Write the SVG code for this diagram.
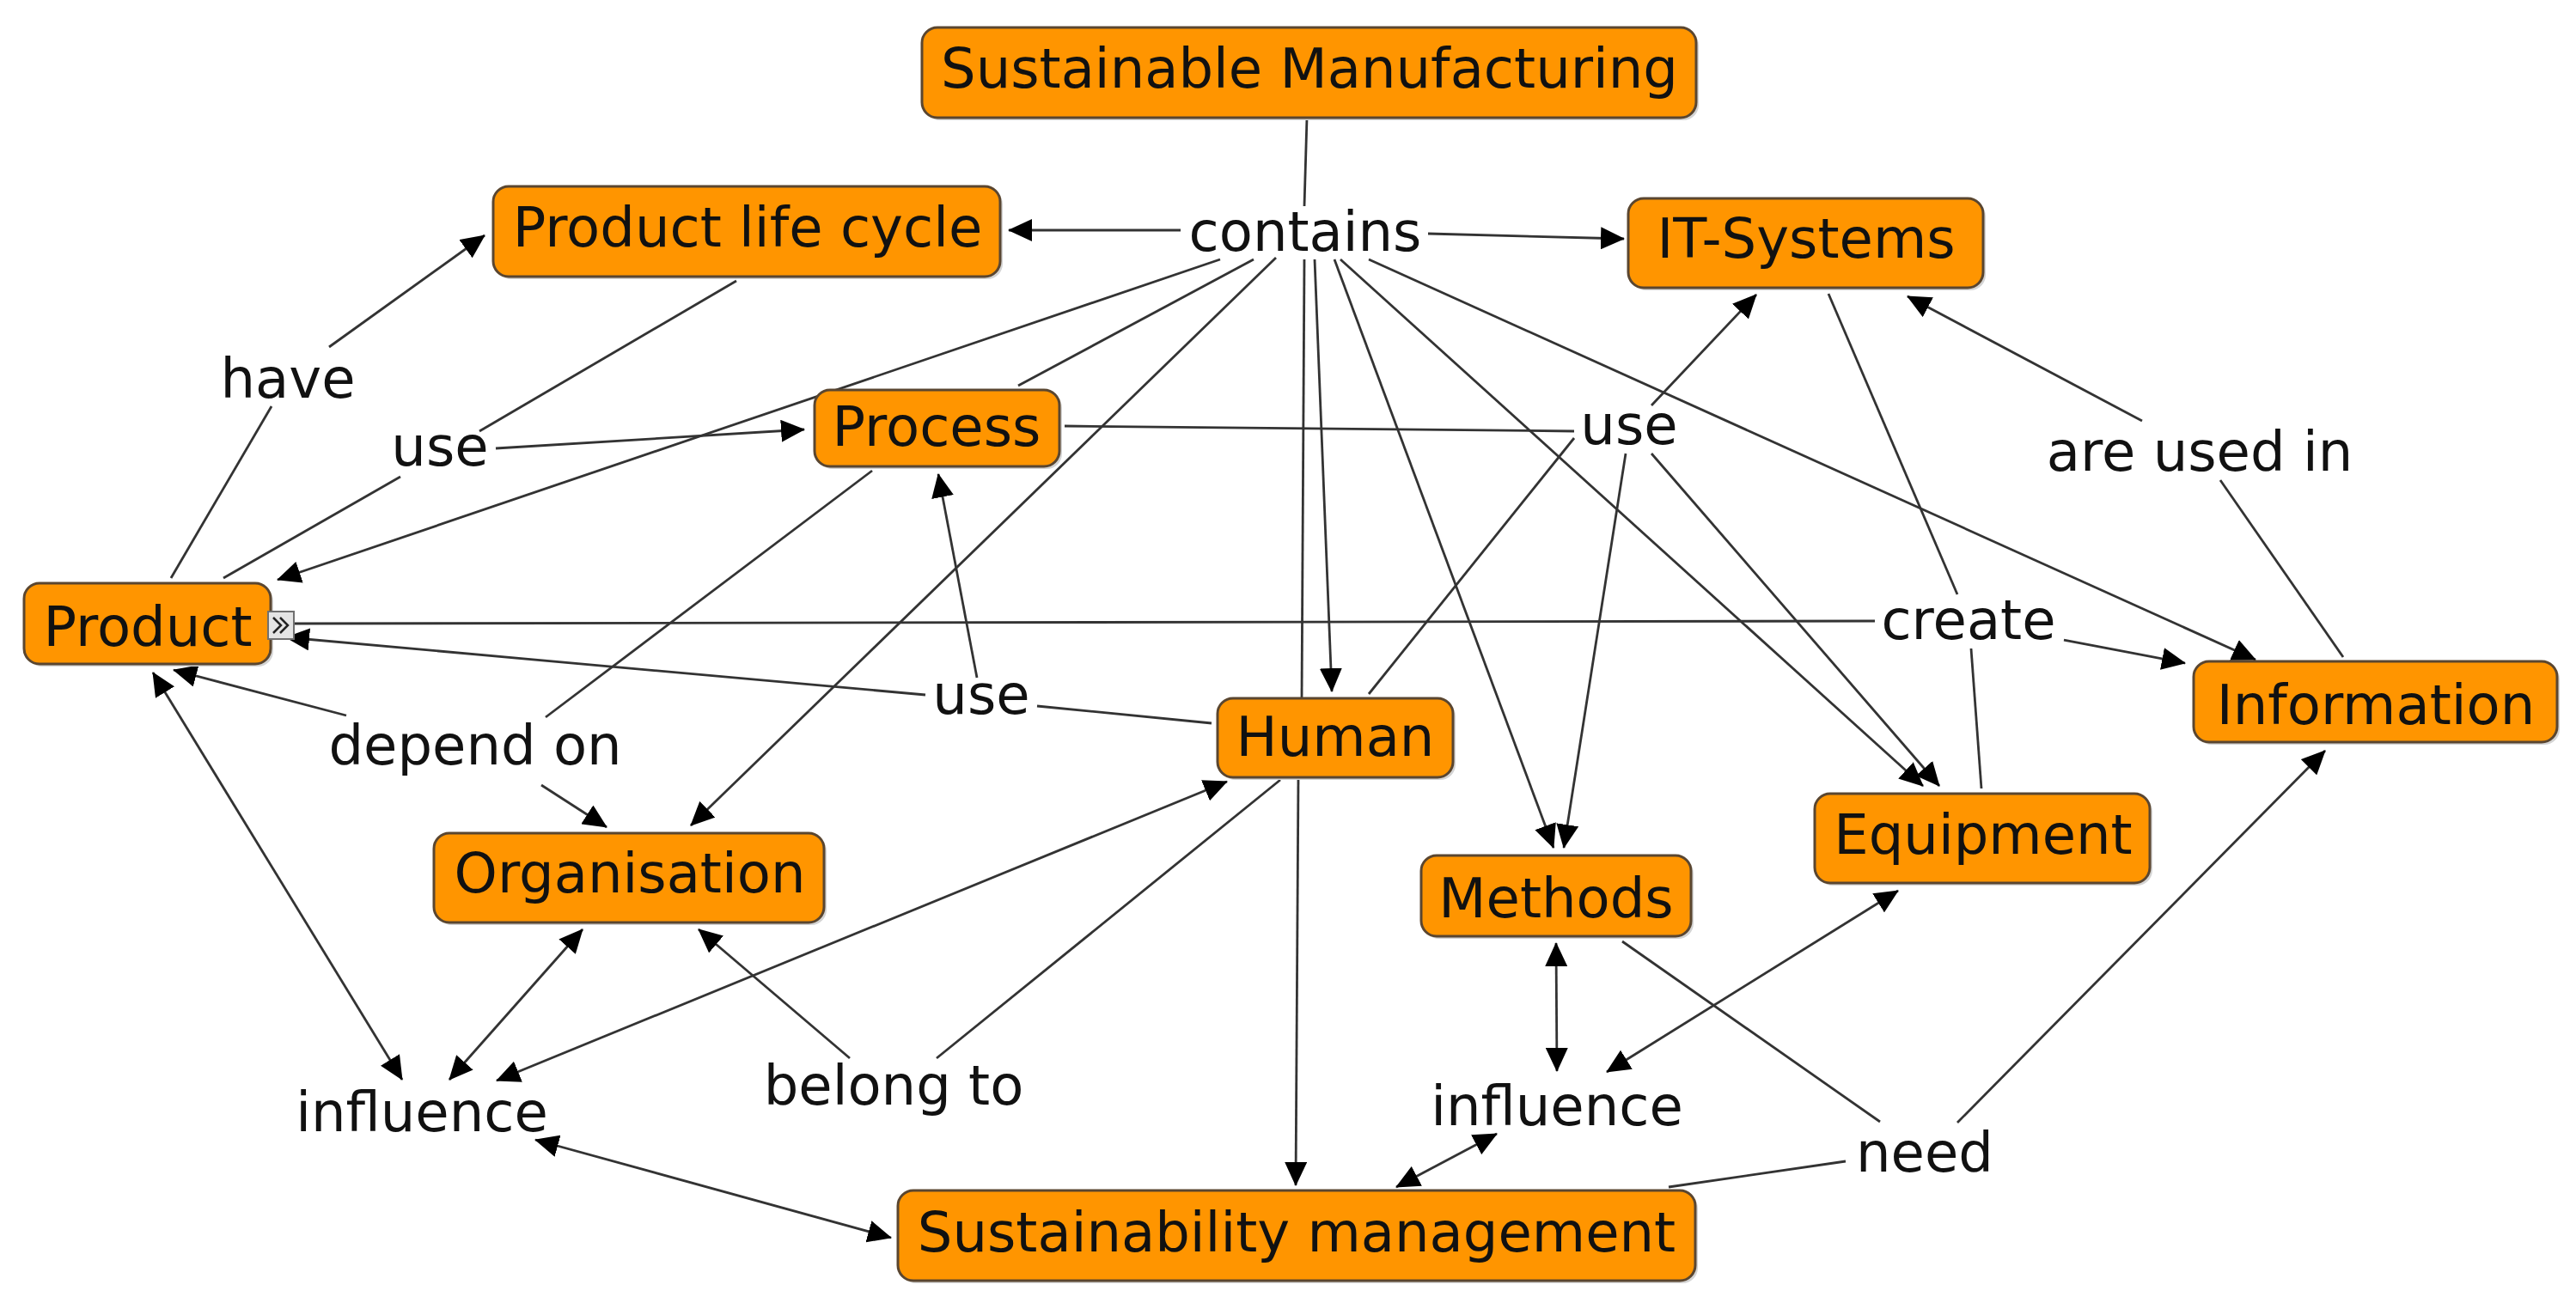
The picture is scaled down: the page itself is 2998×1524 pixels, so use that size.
<svg xmlns="http://www.w3.org/2000/svg" width="2998" height="1524" viewBox="0 0 2998 1524">
<style>
  .bg{fill:#ffffff}
  .box{fill:#FF9500;stroke:#5a4630;stroke-width:3}
  .shadow{fill:#d4d4d4}
  .t{font-family:"DejaVu Sans","Liberation Sans",sans-serif;font-size:64px;fill:#111;text-anchor:middle}
  .c{stroke:#333333;stroke-width:2.8;fill:none}
  .a{marker-end:url(#ah)}
  .b{marker-start:url(#ah);marker-end:url(#ah)}
</style>
<defs>
  <marker id="ah" viewBox="0 0 28 26" refX="27" refY="13" markerWidth="28" markerHeight="26" markerUnits="userSpaceOnUse" orient="auto-start-reverse">
    <path d="M0,0 L28,13 L0,26 Z" fill="#000"/>
  </marker>
</defs>
<rect class="bg" x="0" y="0" width="2998" height="1524"/>

<g id="connectors">
  <!-- plain lines -->
  <line class="c" x1="1521" y1="137" x2="1518" y2="240"/>
  <line class="c" x1="1459" y1="302" x2="1185" y2="449"/>
  <line class="c" x1="1518" y1="302" x2="1515" y2="813"/>
  <line class="c" x1="857" y1="327" x2="558" y2="502"/>
  <line class="c" x1="260" y1="673" x2="466" y2="555"/>
  <line class="c" x1="199" y1="673" x2="316" y2="473"/>
  <line class="c" x1="1239" y1="496" x2="1832" y2="502"/>
  <line class="c" x1="1593" y1="808" x2="1832" y2="510"/>
  <line class="c" x1="342" y1="726" x2="2182" y2="723"/>
  <line class="c" x1="2128" y1="342" x2="2278" y2="692"/>
  <line class="c" x1="2306" y1="918" x2="2294" y2="755"/>
  <line class="c" x1="2727" y1="765" x2="2584" y2="559"/>
  <line class="c" x1="1410" y1="842" x2="1207" y2="822"/>
  <line class="c" x1="1015" y1="548" x2="635" y2="835"/>
  <line class="c" x1="1490" y1="908" x2="1090" y2="1232"/>
  <line class="c" x1="1888" y1="1096" x2="2188" y2="1306"/>
  <line class="c" x1="1942" y1="1382" x2="2148" y2="1352"/>
  <!-- arrows -->
  <line class="c a" x1="1374" y1="268" x2="1174" y2="268"/>
  <line class="c a" x1="1662" y1="272" x2="1890" y2="278"/>
  <line class="c a" x1="1420" y1="302" x2="323" y2="675"/>
  <line class="c a" x1="1485" y1="300" x2="804" y2="961"/>
  <line class="c a" x1="1530" y1="302" x2="1550" y2="805"/>
  <line class="c a" x1="1511" y1="905" x2="1508" y2="1380"/>
  <line class="c a" x1="1553" y1="302" x2="1808" y2="987"/>
  <line class="c a" x1="1560" y1="302" x2="2238" y2="915"/>
  <line class="c a" x1="1593" y1="302" x2="2625" y2="768"/>
  <line class="c a" x1="383" y1="404" x2="564" y2="274"/>
  <line class="c a" x1="577" y1="522" x2="936" y2="500"/>
  <line class="c a" x1="1922" y1="472" x2="2044" y2="343"/>
  <line class="c a" x1="1892" y1="528" x2="1820" y2="987"/>
  <line class="c a" x1="1922" y1="528" x2="2257" y2="915"/>
  <line class="c a" x1="2402" y1="745" x2="2543" y2="772"/>
  <line class="c a" x1="2493" y1="490" x2="2220" y2="345"/>
  <line class="c a" x1="1077" y1="809" x2="333" y2="742"/>
  <line class="c a" x1="1137" y1="789" x2="1092" y2="552"/>
  <line class="c a" x1="403" y1="833" x2="202" y2="780"/>
  <line class="c a" x1="630" y1="914" x2="706" y2="963"/>
  <line class="c a" x1="989" y1="1232" x2="813" y2="1082"/>
  <line class="c a" x1="2278" y1="1307" x2="2706" y2="874"/>
  <!-- bidirectional -->
  <line class="c b" x1="178" y1="783" x2="468" y2="1257"/>
  <line class="c b" x1="678" y1="1082" x2="523" y2="1257"/>
  <line class="c b" x1="1428" y1="910" x2="578" y2="1258"/>
  <line class="c b" x1="623" y1="1327" x2="1037" y2="1441"/>
  <line class="c b" x1="1811" y1="1098" x2="1812" y2="1247"/>
  <line class="c b" x1="2209" y1="1037" x2="1870" y2="1248"/>
  <line class="c b" x1="1742" y1="1320" x2="1625" y2="1382"/>
</g>

<g id="node-sustainable-manufacturing">
  <rect class="shadow" x="1076" y="35" width="901" height="105" rx="18"/>
  <rect class="box" x="1073" y="32" width="901" height="105" rx="18"/>
  <text class="t" x="1524" y="102">Sustainable Manufacturing</text>
</g>
<g id="node-product-life-cycle">
  <rect class="shadow" x="577" y="220" width="590" height="105" rx="18"/>
  <rect class="box" x="574" y="217" width="590" height="105" rx="18"/>
  <text class="t" x="870" y="287">Product life cycle</text>
</g>
<g id="node-it-systems">
  <rect class="shadow" x="1898" y="234" width="413" height="104" rx="18"/>
  <rect class="box" x="1895" y="231" width="413" height="104" rx="18"/>
  <text class="t" x="2102" y="300">IT-Systems</text>
</g>
<g id="node-process">
  <rect class="shadow" x="951" y="457" width="285" height="89" rx="18"/>
  <rect class="box" x="948" y="454" width="285" height="89" rx="18"/>
  <text class="t" x="1090" y="519">Process</text>
</g>
<g id="node-product">
  <rect class="shadow" x="31" y="682" width="287" height="94" rx="18"/>
  <rect class="box" x="28" y="679" width="287" height="94" rx="18"/>
  <text class="t" x="172" y="752">Product</text>
  <rect x="312" y="712" width="30" height="32" fill="#e4e4e4" stroke="#707070" stroke-width="2"/>
  <polyline points="318,719 327,728 318,737" fill="none" stroke="#222" stroke-width="2.5"/>
  <polyline points="326,719 335,728 326,737" fill="none" stroke="#222" stroke-width="2.5"/>
</g>
<g id="node-human">
  <rect class="shadow" x="1420" y="816" width="274" height="92" rx="18"/>
  <rect class="box" x="1417" y="813" width="274" height="92" rx="18"/>
  <text class="t" x="1554" y="880">Human</text>
</g>
<g id="node-information">
  <rect class="shadow" x="2556" y="773" width="423" height="94" rx="18"/>
  <rect class="box" x="2553" y="770" width="423" height="94" rx="18"/>
  <text class="t" x="2765" y="843">Information</text>
</g>
<g id="node-equipment">
  <rect class="shadow" x="2115" y="927" width="390" height="104" rx="18"/>
  <rect class="box" x="2112" y="924" width="390" height="104" rx="18"/>
  <text class="t" x="2308" y="994">Equipment</text>
</g>
<g id="node-organisation">
  <rect class="shadow" x="508" y="973" width="454" height="104" rx="18"/>
  <rect class="box" x="505" y="970" width="454" height="104" rx="18"/>
  <text class="t" x="733" y="1039">Organisation</text>
</g>
<g id="node-methods">
  <rect class="shadow" x="1657" y="999" width="314" height="94" rx="18"/>
  <rect class="box" x="1654" y="996" width="314" height="94" rx="18"/>
  <text class="t" x="1811" y="1068">Methods</text>
</g>
<g id="node-sustainability-management">
  <rect class="shadow" x="1048" y="1389" width="928" height="105" rx="18"/>
  <rect class="box" x="1045" y="1386" width="928" height="105" rx="18"/>
  <text class="t" x="1509" y="1457">Sustainability management</text>
</g>

<g id="label-contains"><text class="t" x="1519" y="292">contains</text></g>
<g id="label-have"><text class="t" x="335" y="463">have</text></g>
<g id="label-use-1"><text class="t" x="512" y="542">use</text></g>
<g id="label-use-2"><text class="t" x="1896" y="517">use</text></g>
<g id="label-are-used-in"><text class="t" x="2560" y="548">are used in</text></g>
<g id="label-create"><text class="t" x="2291" y="744">create</text></g>
<g id="label-use-3"><text class="t" x="1142" y="831">use</text></g>
<g id="label-depend-on"><text class="t" x="553" y="890">depend on</text></g>
<g id="label-influence-1"><text class="t" x="491" y="1317">influence</text></g>
<g id="label-belong-to"><text class="t" x="1040" y="1286">belong to</text></g>
<g id="label-influence-2"><text class="t" x="1812" y="1310">influence</text></g>
<g id="label-need"><text class="t" x="2240" y="1364">need</text></g>
</svg>
